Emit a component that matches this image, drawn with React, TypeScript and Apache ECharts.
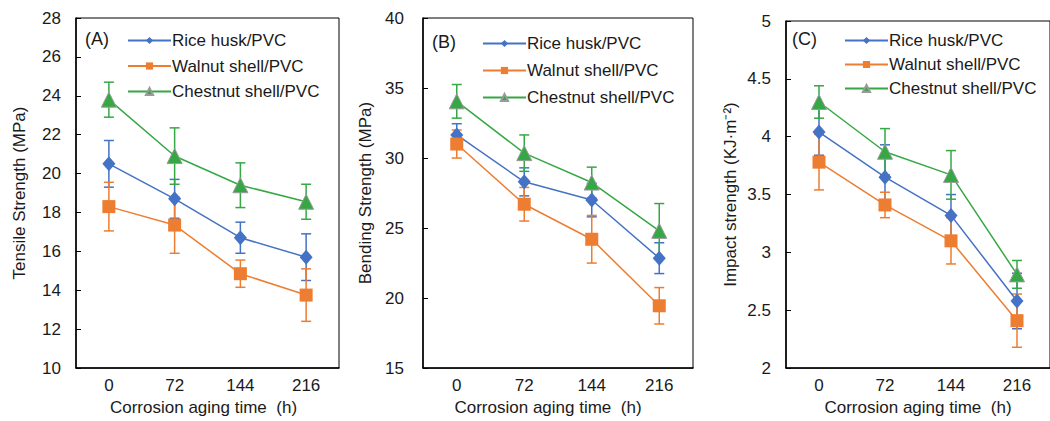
import React, { useEffect, useRef } from "react";
import * as echarts from "echarts";

const categories = ["0", "72", "144", "216"];
const seriesNames = ["Rice husk/PVC", "Walnut shell/PVC", "Chestnut shell/PVC"];
const colors = ["#4472C4", "#ED7D31", "#35A845"];

// (A) Tensile strength (MPa)
const riceA = [20.5, 18.7, 16.7, 15.7];
const riceAErr = [1.2, 1.0, 0.8, 1.2];
const walnutA = [18.3, 17.35, 14.85, 13.75];
const walnutAErr = [1.25, 1.45, 0.7, 1.35];
const chestnutA = [23.8, 20.9, 19.4, 18.55];
const chestnutAErr = [0.9, 1.45, 1.15, 0.9];

// (B) Bending strength (MPa)
const riceB = [31.65, 28.3, 27.0, 22.85];
const riceBErr = [0.8, 1.0, 1.2, 1.1];
const walnutB = [31.0, 26.7, 24.2, 19.45];
const walnutBErr = [1.0, 1.2, 1.7, 1.3];
const chestnutB = [34.05, 30.35, 28.25, 24.8];
const chestnutBErr = [1.2, 1.3, 1.1, 1.95];

// (C) Impact strength (KJ·m⁻²)
const riceC = [4.04, 3.65, 3.32, 2.58];
const riceCErr = [0.2, 0.28, 0.18, 0.24];
const walnutC = [3.78, 3.41, 3.1, 2.41];
const walnutCErr = [0.24, 0.11, 0.2, 0.23];
const chestnutC = [4.3, 3.87, 3.67, 2.81];
const chestnutCErr = [0.14, 0.2, 0.21, 0.12];

const panels = [
  {
    tag: "(A)",
    yName: "Tensile Strength (MPa)",
    min: 10, max: 28, interval: 2,
    values: [riceA, walnutA, chestnutA],
    errors: [riceAErr, walnutAErr, chestnutAErr],
  },
  {
    tag: "(B)",
    yName: "Bending Strength (MPa)",
    min: 15, max: 40, interval: 5,
    values: [riceB, walnutB, chestnutB],
    errors: [riceBErr, walnutBErr, chestnutBErr],
  },
  {
    tag: "(C)",
    yName: "Impact strength (KJ·m⁻²)",
    min: 2, max: 5, interval: 0.5,
    values: [riceC, walnutC, chestnutC],
    errors: [riceCErr, walnutCErr, chestnutCErr],
  },
];

const FONT = 'Arial, "Liberation Sans", sans-serif';
const TEXT = "#1a1a1a";

const grids = [
  { left: 76, top: 18, width: 263, height: 350 },
  { left: 423, top: 18, width: 270, height: 354 },
  { left: 786, top: 21, width: 274, height: 351 },
];
const legendPos = [
  { left: 122, top: 27, itemGap: 8.5 },
  { left: 477, top: 30, itemGap: 10 },
  { left: 839, top: 27, itemGap: 7 },
];
const tagPos = [
  { x: 85, y: 39 },
  { x: 432, y: 42 },
  { x: 792, y: 39 },
];
const yNameGap = [48, 49, 47];
const yLabelMargin = [15, 19, 15];
const xNamePad = [[0, 8, 0, 0], [0, 20, 0, 0], [0, 0, 0, 0]];

const symbols = ["diamond", "rect", "triangle"];
const symbolSizes: any[] = [[13, 15], 13, 15];

function makeErrRender(color: string) {
  return (params: any, api: any) => {
    const x = api.value(0);
    const lo = api.coord([x, api.value(1)]);
    const hi = api.coord([x, api.value(2)]);
    const cap = 5;
    const style = { stroke: color, lineWidth: 1.5 };
    return {
      type: "group",
      children: [
        { type: "line", shape: { x1: lo[0], y1: lo[1], x2: hi[0], y2: hi[1] }, style },
        { type: "line", shape: { x1: lo[0] - cap, y1: lo[1], x2: lo[0] + cap, y2: lo[1] }, style },
        { type: "line", shape: { x1: hi[0] - cap, y1: hi[1], x2: hi[0] + cap, y2: hi[1] }, style },
      ],
    };
  };
}

export default function App() {
  const ref = useRef<HTMLDivElement>(null);
  useEffect(() => {
    document.body.style.margin = "0";
    if (!ref.current) return;
    const chart = echarts.init(ref.current, undefined, { renderer: "svg" });

    const grid: any[] = [];
    const xAxis: any[] = [];
    const yAxis: any[] = [];
    const legend: any[] = [];
    const series: any[] = [];
    const graphic: any[] = [];

    panels.forEach((p, gi) => {
      grid.push({
        ...grids[gi],
        show: true,
        borderColor: "#000",
        borderWidth: 1,
        backgroundColor: "transparent",
      });
      xAxis.push({
        type: "category",
        gridIndex: gi,
        data: categories,
        boundaryGap: true,
        name: "Corrosion aging time  (h)",
        nameLocation: "middle",
        nameGap: 28,
        nameTextStyle: { fontSize: 17, color: TEXT, fontFamily: FONT, padding: xNamePad[gi] },
        axisLine: { lineStyle: { color: "#000", width: 1.5 } },
        axisTick: { inside: true, alignWithLabel: true, length: 5, lineStyle: { color: "#000" } },
        axisLabel: { fontSize: 17, color: TEXT, fontFamily: FONT, margin: 9 },
        splitLine: { show: false },
      });
      yAxis.push({
        type: "value",
        gridIndex: gi,
        min: p.min,
        max: p.max,
        interval: p.interval,
        name: p.yName,
        nameLocation: "middle",
        nameGap: yNameGap[gi],
        nameTextStyle: { fontSize: 17, color: TEXT, fontFamily: FONT },
        axisLine: { show: true, lineStyle: { color: "#000", width: 1.5 } },
        axisTick: { show: true, inside: true, length: 5, lineStyle: { color: "#000" } },
        axisLabel: { fontSize: 17, color: TEXT, fontFamily: FONT, margin: yLabelMargin[gi] },
        splitLine: { show: false },
      });
      legend.push({
        data: seriesNames,
        orient: "vertical",
        left: legendPos[gi].left,
        top: legendPos[gi].top,
        itemGap: legendPos[gi].itemGap,
        itemWidth: 43,
        itemHeight: 9,
        textStyle: { fontSize: 17, color: TEXT, fontFamily: FONT, padding: [0, 0, 0, -4] },
        selectedMode: false,
      });
      graphic.push({
        type: "text",
        x: tagPos[gi].x,
        y: tagPos[gi].y,
        style: {
          text: p.tag,
          fontSize: 18,
          fontFamily: FONT,
          fill: TEXT,
          verticalAlign: "middle",
        },
      });

      p.values.forEach((vals, si) => {
        const errs = p.errors[si];
        series.push({
          type: "custom",
          name: seriesNames[si] + " error",
          xAxisIndex: gi,
          yAxisIndex: gi,
          z: 2,
          renderItem: makeErrRender(colors[si]),
          encode: { x: 0, y: [1, 2] },
          data: vals.map((v, i) => [i, v - errs[i], v + errs[i]]),
          silent: true,
        });
      });
      p.values.forEach((vals, si) => {
        series.push({
          type: "line",
          name: seriesNames[si],
          xAxisIndex: gi,
          yAxisIndex: gi,
          z: 3,
          data: vals,
          symbol: symbols[si],
          symbolSize: symbolSizes[si],
          lineStyle: { color: colors[si], width: 1.5 },
          itemStyle: {
            color: colors[si],
            borderColor: si === 2 ? "#9a9a9a" : colors[si],
            borderWidth: si === 2 ? 1 : 0,
          },
          showAllSymbol: true,
        });
      });
    });

    chart.setOption({
      animation: false,
      backgroundColor: "#fff",
      textStyle: { fontFamily: FONT },
      grid,
      xAxis,
      yAxis,
      legend,
      series,
      graphic,
    });
    return () => chart.dispose();
  }, []);
  return <div ref={ref} style={{ width: 1050, height: 421 }} />;
}
